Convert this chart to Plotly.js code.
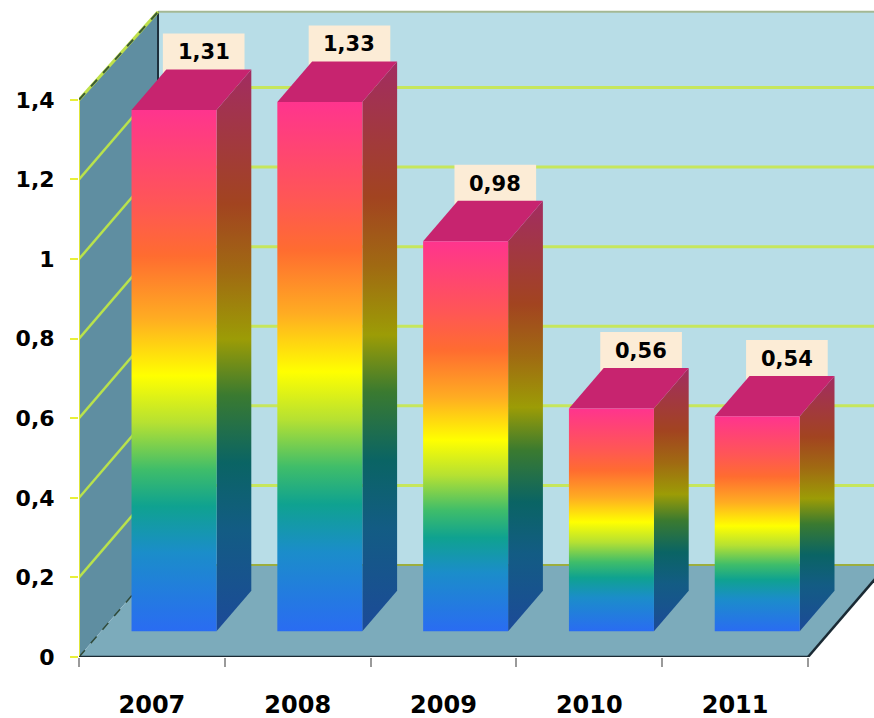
<!DOCTYPE html>
<html>
<head>
<meta charset="utf-8">
<script src="https://cdn.plot.ly/plotly-3.0.1.min.js"></script>
<style>html,body{margin:0;padding:0;background:#fff;}</style>
</head>
<body>
<div id="chart" style="width:874px;height:718px;"></div>
<script>
// ---- data ----
const years = ['2007', '2008', '2009', '2010', '2011'];
const values = [1.31, 1.33, 0.98, 0.56, 0.54];
const yTicks = [0, 0.2, 0.4, 0.6, 0.8, 1, 1.2, 1.4];

// ---- 3D styling (axis units) ----
const DX = 0.542, DY = 0.231;      // full depth of the box
const A = 0.28, B = 0.72;          // bar front / back depth fractions
const W = 0.583;                   // bar width
const PXY = 398, PXX = 145.8;      // px per unit (for label offsets)
const XMAX = -0.5 + 795 / PXX;
const YMAX = 657 / PXY;

const frontScale = [
  [0, '#2a6cf2'], [0.15, '#1b8dca'], [0.24, '#0fa290'], [0.31, '#3fbd6a'],
  [0.40, '#b6e132'], [0.49, '#ffff00'], [0.60, '#ffac22'], [0.72, '#ff6c30'],
  [0.82, '#ff5656'], [1, '#ff348e']
];
const sideScale = [
  [0, '#1c4a98'], [0.18, '#135c84'], [0.3, '#0a6464'], [0.42, '#3a7a30'],
  [0.52, '#9c9c06'], [0.64, '#a06a12'], [0.76, '#a24420'], [1, '#a22c62']
];

const traces = [];
const shapes = [];
const annotations = [];

// walls / floor
const bx = -0.5 + DX;
const topY = 1.4 + DY - 0.01;
shapes.push({type:'path', layer:'below', xref:'x', yref:'y',
  path:`M ${bx},${DY} L ${XMAX + 1},${DY} L ${XMAX + 1},${topY} L ${bx},${topY} Z`,
  fillcolor:'#b8dde7', line:{width:0}});
shapes.push({type:'path', layer:'below', xref:'x', yref:'y',
  path:`M -0.5,0 L -0.5,1.4 L ${bx},${topY} L ${bx},${DY} Z`,
  fillcolor:'#5f8ea1', line:{width:0}});
shapes.push({type:'path', layer:'below', xref:'x', yref:'y',
  path:`M -0.5,0 L ${bx},${DY} L ${4.5 + DX + 1},${DY} L ${4.5 + 1},0 Z`,
  fillcolor:'#7cabbb', line:{width:0}});
// cut the floor on the right with the slanted edge
shapes.push({type:'path', layer:'below', xref:'x', yref:'y',
  path:`M 4.5,0 L ${4.5 + DX},${DY} L ${XMAX + 1},${DY} L ${XMAX + 1},-0.5 L 4.5,-0.5 Z`,
  fillcolor:'#ffffff', line:{width:0}});

// grid lines on the back wall and left wall
yTicks.forEach(t => {
  if (t === 0 || t === 1.4) return;
  shapes.push({type:'line', layer:'below', xref:'x', yref:'y',
    x0:bx, x1:XMAX + 1, y0:t + DY, y1:t + DY, line:{color:'#c6e65c', width:3}});
  shapes.push({type:'line', layer:'below', xref:'x', yref:'y',
    x0:-0.5, x1:bx, y0:t, y1:t + DY, line:{color:'#b9e24c', width:2.5}});
});
// edges
shapes.push({type:'line', layer:'below', xref:'x', yref:'y',
  x0:bx, x1:XMAX + 1, y0:DY, y1:DY, line:{color:'#9cae3e', width:2}});
shapes.push({type:'line', layer:'below', xref:'x', yref:'y',
  x0:bx, x1:XMAX + 1, y0:topY, y1:topY, line:{color:'#a4b894', width:2}});
shapes.push({type:'line', layer:'below', xref:'x', yref:'y',
  x0:bx, x1:bx, y0:DY, y1:topY, line:{color:'#1d2f3c', width:2}});
shapes.push({type:'line', layer:'below', xref:'x', yref:'y',
  x0:-0.5, x1:bx, y0:1.4, y1:topY, line:{color:'#bfe04a', width:3}});
shapes.push({type:'line', layer:'below', xref:'x', yref:'y',
  x0:-0.5, x1:bx, y0:1.4, y1:topY, line:{color:'#3c5a34', width:2, dash:'dash'}});
shapes.push({type:'line', layer:'below', xref:'x', yref:'y',
  x0:-0.5, x1:bx, y0:0, y1:DY, line:{color:'#2f4a3a', width:1.5, dash:'dash'}});

// value label boxes (behind bars)
values.forEach((v, i) => {
  const cx = i + B * DX - 0.035;
  const yb = v + B * DY;
  shapes.push({type:'rect', layer:'below', xref:'x', yref:'y',
    x0:cx - 0.28, x1:cx + 0.28, y0:yb - 7 / PXY, y1:yb + 36 / PXY,
    fillcolor:'#fcecd6', line:{width:0}});
  annotations.push({xref:'x', yref:'y', x:cx, y:yb + 17 / PXY,
    text:v.toFixed(2).replace('.', ','), showarrow:false, xanchor:'center', yanchor:'middle',
    font:{family:'DejaVu Sans', size:21, color:'#000', weight:'bold'}});
});

// front axis lines (on top of walls)
shapes.push({type:'line', layer:'above', xref:'x', yref:'y',
  x0:-0.5, x1:-0.5, y0:0, y1:1.4, line:{color:'#dfe63a', width:2}});
shapes.push({type:'line', layer:'above', xref:'x', yref:'y',
  x0:-0.5, x1:4.5, y0:0, y1:0, line:{color:'#1a2a34', width:2.5}});
shapes.push({type:'line', layer:'above', xref:'x', yref:'y',
  x0:4.5, x1:4.5 + DX, y0:0, y1:DY, line:{color:'#1a2a34', width:2.5}});

// bars
values.forEach((v, i) => {
  const xl = i + A * DX - W / 2, xr = i + A * DX + W / 2;
  const y0 = A * DY, y1 = v + A * DY;
  const ddx = (B - A) * DX, ddy = (B - A) * DY;
  // side face
  traces.push({type:'scatter', mode:'lines', hoverinfo:'skip', showlegend:false,
    x:[xr, xr, xr + ddx, xr + ddx, xr], y:[y0, y1, y1 + ddy, y0 + ddy, y0],
    fill:'toself', line:{width:0, color:'rgba(0,0,0,0)'},
    fillgradient:{type:'vertical', colorscale:sideScale}});
  // top face
  traces.push({type:'scatter', mode:'lines', hoverinfo:'skip', showlegend:false,
    x:[xl, xr, xr + ddx, xl + ddx, xl], y:[y1, y1, y1 + ddy, y1 + ddy, y1],
    fill:'toself', fillcolor:'#c7246f', line:{width:0, color:'rgba(0,0,0,0)'}});
  // front face
  traces.push({type:'scatter', mode:'lines', hoverinfo:'skip', showlegend:false,
    x:[xl, xl, xr, xr, xl], y:[y0, y1, y1, y0, y0],
    fill:'toself', line:{width:0, color:'rgba(0,0,0,0)'},
    fillgradient:{type:'vertical', colorscale:frontScale}});
});

const layout = {
  width:874, height:718,
  margin:{l:79, r:0, t:0, b:61},
  paper_bgcolor:'#ffffff', plot_bgcolor:'#ffffff',
  separators:', ',
  showlegend:false,
  xaxis:{range:[-0.5, XMAX], tickvals:[0, 1, 2, 3, 4], ticktext:years,
    ticks:'', showgrid:false, zeroline:false, showline:false, fixedrange:true,
    ticklabelstandoff:31,
    tickfont:{family:'DejaVu Sans', size:24, color:'#000', weight:'bold'},
    minor:{tickmode:'array', tickvals:[-0.5, 0.5, 1.5, 2.5, 3.5, 4.5], ticks:'outside',
      ticklen:9, tickwidth:2, tickcolor:'#9a9a9a', showgrid:false}},
  yaxis:{range:[0, YMAX], tickvals:yTicks, ticks:'outside', ticklen:8, tickwidth:2,
    tickcolor:'#e8ef3a', showgrid:false, zeroline:false, showline:false, fixedrange:true,
    ticklabelstandoff:11,
    tickfont:{family:'DejaVu Sans', size:22, color:'#000', weight:'bold'}},
  shapes:shapes,
  annotations:annotations
};

Plotly.newPlot('chart', traces, layout, {displayModeBar:false, staticPlot:true});
</script>
</body>
</html>
